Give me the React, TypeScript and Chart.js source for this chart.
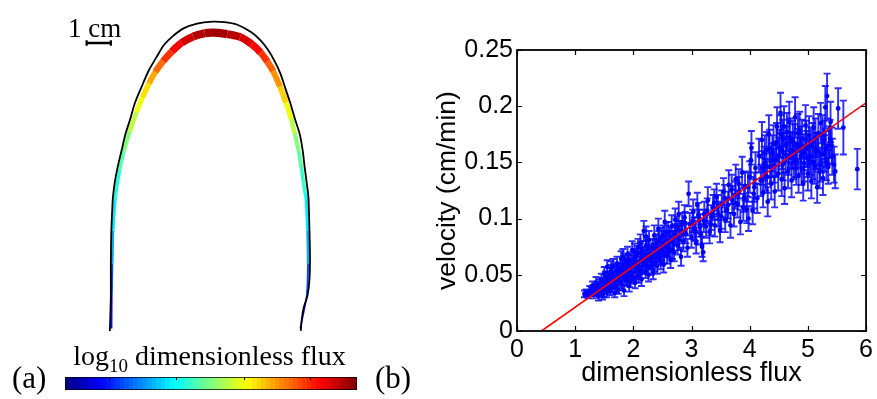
import React, { useEffect, useRef } from 'react';
import { Chart, registerables } from 'chart.js';
Chart.register(...registerables);

// ---------- Panel (a): front outline and flux band (cm) ----------
const outlineX = [0, 0.02, 0.04, 0.04, 0.06, 0.1, 0.12, 0.2, 0.32, 0.48, 0.64, 0.84, 1.04, 1.32, 1.6, 1.92, 2.24, 2.6, 3.04, 3.6, 4.24, 4.72, 5.24, 5.84, 6.2, 6.52, 6.8, 7.04, 7.24, 7.44, 7.64, 7.84, 7.96, 8.04, 8.16, 8.2, 8.24, 8.26, 8.24, 8.16, 8.0, 7.92, 7.88];
const outlineY = [0, 0.68, 1.48, 2.8, 4.16, 5.08, 5.48, 6.16, 6.8, 7.48, 8.16, 8.8, 9.48, 10.16, 10.8, 11.36, 11.88, 12.24, 12.56, 12.76, 12.84, 12.82, 12.72, 12.4, 12.08, 11.68, 11.2, 10.68, 10.08, 9.48, 8.8, 8.16, 7.48, 6.8, 5.88, 5.48, 4.16, 3.08, 2.16, 1.48, 0.96, 0.48, 0];

const bandX = [0.07, 0.08, 0.1, 0.13, 0.22, 0.4, 0.58, 0.82, 1.1, 1.34, 1.62, 1.88, 2.2, 2.56, 2.96, 3.44, 3.92, 4.32, 4.84, 5.38, 5.86, 6.22, 6.5, 6.74, 7.02, 7.27, 7.48, 7.64, 7.79, 7.9, 8.04, 8.1, 8.16, 8.18, 8.13, 7.86];
const bandY = [0.1, 1.48, 2.8, 4.16, 5.48, 6.68, 7.48, 8.28, 9.08, 9.68, 10.28, 10.76, 11.2, 11.6, 11.96, 12.22, 12.36, 12.38, 12.32, 12.2, 11.9, 11.56, 11.18, 10.78, 10.14, 9.48, 8.8, 8.16, 7.48, 6.8, 5.82, 5.48, 4.16, 2.8, 1.48, 0.1];
// position of log10 flux on the colour scale (0..1)
const bandFlux = [0.12, 0.16, 0.25, 0.33, 0.38, 0.44, 0.48, 0.53, 0.59, 0.63, 0.68, 0.74, 0.8, 0.85, 0.9, 0.94, 0.96, 0.97, 0.96, 0.93, 0.89, 0.85, 0.8, 0.76, 0.7, 0.64, 0.58, 0.53, 0.48, 0.45, 0.41, 0.38, 0.33, 0.25, 0.16, 0.12];

const scaleBarX = [-0.96, 0.04];
const scaleBarY = [11.95, 11.95];
const scaleBarLabel = '1 cm';
const colorbarTicks = [0.151, 0.381, 0.612, 0.838];

// ---------- Panel (b): velocity vs dimensionless flux ----------
const fluxValues = [
  1.16, 1.19, 1.22, 1.25, 1.28, 1.30, 1.32, 1.34, 1.36, 1.38, 1.40, 1.42,
  1.44, 1.45, 1.47, 1.48, 1.50, 1.51, 1.53, 1.54, 1.55, 1.57, 1.58, 1.60, 1.61, 1.62, 1.64, 1.65, 1.66, 1.68, 1.69, 1.70,
  1.72, 1.73, 1.74, 1.76, 1.77, 1.79, 1.80, 1.82, 1.83, 1.84, 1.86, 1.87, 1.89, 1.90, 1.92, 1.93, 1.95, 1.96, 1.98, 1.99,
  2.01, 2.03, 2.04, 2.06, 2.08, 2.09, 2.11, 2.13, 2.14, 2.16, 2.18, 2.19, 2.21, 2.22, 2.24, 2.26, 2.27, 2.29,
  2.31, 2.33, 2.34, 2.36, 2.38, 2.40, 2.41, 2.43, 2.45, 2.47, 2.48, 2.50, 2.52, 2.54, 2.56, 2.58,
  2.60, 2.62, 2.64, 2.66, 2.68, 2.70, 2.72, 2.74, 2.76, 2.78, 2.80, 2.82, 2.84, 2.86, 2.88, 2.90, 2.93, 2.95,
  2.97, 3.00, 3.03, 3.05, 3.08, 3.10, 3.13, 3.16, 3.18, 3.20, 3.22, 3.25, 3.28, 3.31, 3.34, 3.37,
  3.40, 3.43, 3.46, 3.49, 3.52, 3.55, 3.58, 3.61, 3.64, 3.67, 3.70, 3.73, 3.76, 3.79,
  3.82, 3.84, 3.87, 3.90, 3.92, 3.95, 3.98, 4.00, 4.02, 4.03, 4.05, 4.08, 4.10, 4.13, 4.16, 4.19,
  4.21, 4.23, 4.25, 4.27, 4.29, 4.31, 4.33, 4.35, 4.37, 4.39, 4.41, 4.43, 4.45, 4.47, 4.49, 4.51, 4.53, 4.55, 4.57, 4.58, 4.60, 4.62,
  4.64, 4.66, 4.68, 4.70, 4.72, 4.74, 4.76, 4.78, 4.80, 4.82, 4.84, 4.86, 4.88, 4.90, 4.92, 4.94, 4.96, 4.98, 5.00, 5.02,
  5.04, 5.06, 5.08, 5.10, 5.12, 5.14, 5.16, 5.18, 5.20, 5.22, 5.24, 5.26, 5.28, 5.30, 5.32, 5.33, 5.36, 5.39,
  5.42, 5.45, 5.47, 5.52, 5.61, 5.85,
  1.31, 1.35, 1.39, 1.43, 1.46, 1.49, 1.52, 1.56, 1.59, 1.63, 1.67, 1.71, 1.75, 1.78, 1.81, 1.85, 1.88, 1.91, 1.94, 1.97,
  2.00, 2.02, 2.05, 2.07, 2.10, 2.12, 2.15, 2.17, 2.20, 2.23, 2.25, 2.28, 1.52, 1.62, 1.72, 1.82, 1.92, 2.02, 2.12, 2.22,
  2.30, 2.32, 2.35, 2.37, 2.39, 2.42, 2.44, 2.46, 2.49, 2.51, 2.53, 2.55, 2.57, 2.59, 2.61, 2.63, 2.67, 2.71, 2.75, 2.79, 2.83, 2.89,
  3.02, 3.07, 3.12, 3.15, 3.21, 3.27, 3.33, 3.39, 3.45, 3.51, 3.57, 3.63, 3.69, 3.75, 3.81, 3.89, 3.97, 4.07,
  4.22, 4.26, 4.30, 4.34, 4.38, 4.42, 4.46, 4.50, 4.54, 4.56, 4.59, 4.63, 4.67, 4.69, 4.73, 4.77, 4.79,
  4.83, 4.87, 4.89, 4.93, 4.97, 5.01, 5.05, 5.09, 5.13, 5.17, 5.21, 5.25, 5.29, 5.31, 5.35, 5.38, 5.41,
];
const velocityValues = [
  0.033, 0.034, 0.032, 0.036, 0.035, 0.040, 0.033, 0.038, 0.043, 0.036, 0.031, 0.041,
  0.035, 0.046, 0.032, 0.040, 0.051, 0.037, 0.044, 0.034, 0.057, 0.041, 0.048, 0.036, 0.053, 0.044, 0.039, 0.058, 0.047, 0.034, 0.052, 0.042,
  0.060, 0.046, 0.037, 0.055, 0.049, 0.064, 0.041, 0.058, 0.050, 0.036, 0.062, 0.053, 0.045, 0.068, 0.057, 0.040, 0.063, 0.051, 0.072, 0.047,
  0.060, 0.043, 0.066, 0.055, 0.074, 0.049, 0.062, 0.070, 0.046, 0.058, 0.089, 0.067, 0.053, 0.076, 0.062, 0.050, 0.081, 0.069,
  0.057, 0.074, 0.052, 0.085, 0.066, 0.078, 0.058, 0.091, 0.071, 0.062, 0.083, 0.075, 0.059, 0.097, 0.080, 0.068,
  0.088, 0.073, 0.063, 0.093, 0.080, 0.070, 0.099, 0.085, 0.076, 0.104, 0.089, 0.066, 0.095, 0.080, 0.101, 0.087, 0.074, 0.122,
  0.095, 0.083, 0.106, 0.091, 0.078, 0.112, 0.098, 0.086, 0.075, 0.070, 0.104, 0.093, 0.116, 0.088, 0.101, 0.110,
  0.094, 0.119, 0.104, 0.089, 0.113, 0.124, 0.099, 0.108, 0.130, 0.094, 0.117, 0.104, 0.135, 0.113,
  0.124, 0.097, 0.141, 0.118, 0.129, 0.108, 0.100, 0.137, 0.152, 0.163, 0.107, 0.128, 0.145, 0.118, 0.156, 0.134,
  0.170, 0.123, 0.149, 0.139, 0.161, 0.115, 0.175, 0.146, 0.131, 0.158, 0.167, 0.124, 0.152, 0.182, 0.140, 0.163, 0.194, 0.135, 0.171, 0.149, 0.127, 0.157,
  0.177, 0.142, 0.186, 0.161, 0.134, 0.170, 0.151, 0.190, 0.145, 0.164, 0.138, 0.178, 0.156, 0.171, 0.131, 0.149, 0.183, 0.162, 0.140, 0.174,
  0.155, 0.133, 0.168, 0.181, 0.147, 0.160, 0.128, 0.176, 0.142, 0.185, 0.157, 0.136, 0.170, 0.199, 0.150, 0.209, 0.165, 0.186,
  0.155, 0.148, 0.142, 0.198, 0.181, 0.144,
  0.037, 0.035, 0.040, 0.038, 0.042, 0.034, 0.039, 0.047, 0.043, 0.050, 0.045, 0.039, 0.051, 0.043, 0.054, 0.047, 0.059, 0.049, 0.044, 0.058,
  0.052, 0.064, 0.048, 0.069, 0.056, 0.052, 0.072, 0.061, 0.065, 0.057, 0.073, 0.063, 0.048, 0.056, 0.054, 0.066, 0.061, 0.070, 0.078, 0.084,
  0.066, 0.062, 0.070, 0.060, 0.073, 0.068, 0.080, 0.066, 0.071, 0.085, 0.067, 0.077, 0.088, 0.074, 0.079, 0.084, 0.072, 0.086, 0.092, 0.081, 0.088, 0.096,
  0.098, 0.089, 0.103, 0.094, 0.098, 0.107, 0.095, 0.114, 0.110, 0.102, 0.118, 0.112, 0.126, 0.121, 0.131, 0.110, 0.128, 0.122,
  0.145, 0.158, 0.137, 0.163, 0.152, 0.147, 0.168, 0.156, 0.175, 0.160, 0.182, 0.166, 0.155, 0.172, 0.160, 0.167, 0.152,
  0.176, 0.166, 0.145, 0.159, 0.170, 0.153, 0.165, 0.150, 0.172, 0.160, 0.148, 0.175, 0.158, 0.162, 0.146, 0.171, 0.165,
];
const velocityErrors = [
  0.003, 0.003, 0.003, 0.004, 0.004, 0.004, 0.004, 0.004, 0.005, 0.004, 0.004, 0.005,
  0.004, 0.005, 0.004, 0.004, 0.006, 0.004, 0.005, 0.004, 0.006, 0.005, 0.005, 0.004, 0.006, 0.005, 0.005, 0.006, 0.005, 0.004, 0.006, 0.005,
  0.006, 0.005, 0.004, 0.006, 0.005, 0.007, 0.005, 0.006, 0.006, 0.005, 0.007, 0.006, 0.005, 0.007, 0.006, 0.005, 0.007, 0.006, 0.008, 0.005,
  0.007, 0.005, 0.007, 0.006, 0.008, 0.006, 0.007, 0.008, 0.006, 0.007, 0.009, 0.007, 0.006, 0.008, 0.007, 0.006, 0.008, 0.008,
  0.007, 0.008, 0.006, 0.009, 0.007, 0.008, 0.007, 0.009, 0.008, 0.007, 0.009, 0.008, 0.007, 0.010, 0.009, 0.008,
  0.009, 0.008, 0.007, 0.010, 0.009, 0.008, 0.010, 0.009, 0.008, 0.011, 0.009, 0.008, 0.010, 0.009, 0.011, 0.009, 0.008, 0.011,
  0.010, 0.009, 0.011, 0.010, 0.009, 0.011, 0.010, 0.009, 0.009, 0.008, 0.011, 0.010, 0.012, 0.010, 0.011, 0.011,
  0.010, 0.012, 0.011, 0.010, 0.012, 0.012, 0.011, 0.011, 0.013, 0.011, 0.012, 0.011, 0.013, 0.012,
  0.013, 0.011, 0.014, 0.012, 0.013, 0.012, 0.011, 0.014, 0.015, 0.015, 0.012, 0.013, 0.014, 0.013, 0.015, 0.014,
  0.016, 0.013, 0.015, 0.014, 0.016, 0.013, 0.017, 0.015, 0.014, 0.016, 0.016, 0.014, 0.015, 0.017, 0.015, 0.016, 0.018, 0.015, 0.017, 0.015, 0.014, 0.016,
  0.017, 0.015, 0.018, 0.016, 0.015, 0.017, 0.016, 0.018, 0.015, 0.016, 0.015, 0.017, 0.016, 0.017, 0.015, 0.016, 0.018, 0.016, 0.015, 0.017,
  0.016, 0.015, 0.017, 0.018, 0.016, 0.016, 0.014, 0.017, 0.015, 0.018, 0.016, 0.015, 0.017, 0.019, 0.016, 0.020, 0.017, 0.018,
  0.016, 0.016, 0.015, 0.018, 0.024, 0.018,
  0.004, 0.004, 0.004, 0.004, 0.005, 0.004, 0.004, 0.005, 0.005, 0.006, 0.005, 0.005, 0.006, 0.005, 0.006, 0.005, 0.006, 0.005, 0.005, 0.006,
  0.006, 0.007, 0.005, 0.007, 0.006, 0.006, 0.008, 0.007, 0.007, 0.006, 0.008, 0.007, 0.005, 0.006, 0.006, 0.007, 0.007, 0.008, 0.008, 0.009,
  0.007, 0.007, 0.008, 0.007, 0.008, 0.007, 0.009, 0.007, 0.008, 0.009, 0.007, 0.008, 0.009, 0.008, 0.009, 0.009, 0.008, 0.009, 0.010, 0.009, 0.010, 0.010,
  0.010, 0.009, 0.011, 0.010, 0.010, 0.011, 0.010, 0.012, 0.011, 0.011, 0.012, 0.012, 0.013, 0.012, 0.013, 0.012, 0.013, 0.013,
  0.015, 0.016, 0.014, 0.016, 0.015, 0.015, 0.017, 0.016, 0.017, 0.016, 0.018, 0.016, 0.016, 0.017, 0.016, 0.017, 0.015,
  0.017, 0.016, 0.015, 0.016, 0.017, 0.016, 0.016, 0.015, 0.017, 0.016, 0.015, 0.017, 0.016, 0.016, 0.015, 0.017, 0.016,
];
const fitX = [0.42, 6];
const fitY = [0, 0.203];
const xTickValues = [0, 1, 2, 3, 4, 5, 6];
const yTickValues = [0, 0.05, 0.1, 0.15, 0.2, 0.25];
const xTitle = 'dimensionless flux';
const yTitle = 'velocity (cm/min)';

const SANS = '"Liberation Sans", Arial, Helvetica, sans-serif';
const SERIF = '"Liberation Serif", "Times New Roman", serif';

function jet(t: number): string {
  const c = (v: number) => Math.max(0, Math.min(1, v));
  const r = c(1.5 - Math.abs(4 * t - 3));
  const g = c(1.5 - Math.abs(4 * t - 2));
  const b = c(1.5 - Math.abs(4 * t - 1));
  return `rgb(${Math.round(r * 255)},${Math.round(g * 255)},${Math.round(b * 255)})`;
}

function formatTick(v: number): string {
  return String(parseFloat(Number(v).toFixed(3)));
}

export default function App() {
  const shapeRef = useRef<HTMLCanvasElement>(null);
  const barRef = useRef<HTMLCanvasElement>(null);
  const scatRef = useRef<HTMLCanvasElement>(null);

  useEffect(() => {
    // ---------- shape chart ----------
    const scaleLabelPlugin = {
      id: 'scaleLabel',
      afterDatasetsDraw(chart: any) {
        const { ctx, scales } = chart;
        const cx = (scales.x.getPixelForValue(scaleBarX[0]) + scales.x.getPixelForValue(scaleBarX[1])) / 2;
        const cy = scales.y.getPixelForValue(scaleBarY[0]);
        ctx.save();
        ctx.fillStyle = '#000';
        ctx.font = `27px ${SERIF}`;
        ctx.textAlign = 'center';
        ctx.textBaseline = 'alphabetic';
        ctx.fillText(scaleBarLabel, cx - 4, cy - 6.5);
        ctx.restore();
      },
    };
    const shape = new Chart(shapeRef.current!, {
      type: 'scatter',
      data: {
        datasets: [
          {
            label: 'outline',
            data: outlineX.map((x, i) => ({ x, y: outlineY[i] })),
            showLine: true,
            borderColor: '#000',
            borderWidth: 1.8,
            pointRadius: 0,
            tension: 0.3,
            order: 0,
          } as any,
          {
            label: 'flux',
            data: bandX.map((x, i) => ({ x, y: bandY[i] })),
            showLine: true,
            borderColor: '#f00',
            borderWidth: 3,
            borderCapStyle: 'butt',
            pointRadius: 0,
            tension: 0.2,
            order: 1,
            segment: {
              borderColor: (ctx: any) => jet((bandFlux[ctx.p0DataIndex] + bandFlux[ctx.p1DataIndex]) / 2),
              borderWidth: (ctx: any) => {
                const t = (bandFlux[ctx.p0DataIndex] + bandFlux[ctx.p1DataIndex]) / 2;
                return 1 + 7.5 * Math.pow(t, 1.25);
              },
            },
          } as any,
          {
            label: 'scale bar',
            data: scaleBarX.map((x, i) => ({ x, y: scaleBarY[i] })),
            showLine: true,
            borderColor: '#000',
            borderWidth: 2.6,
            pointStyle: 'line',
            rotation: 90,
            pointRadius: 2.8,
            pointBorderWidth: 2.2,
            pointBorderColor: '#000',
            order: 0,
          } as any,
        ],
      },
      options: {
        animation: false,
        responsive: false,
        maintainAspectRatio: false,
        layout: { padding: 0 },
        plugins: { legend: { display: false }, tooltip: { enabled: false } },
        scales: {
          x: { type: 'linear', display: false, min: -4.28, max: 11.72 },
          y: { type: 'linear', display: false, min: -0.12, max: 13.48 },
        },
      },
      plugins: [scaleLabelPlugin],
    });

    // ---------- colour bar ----------
    const colorbarPlugin = {
      id: 'colorbarDeco',
      afterDraw(chart: any) {
        const { ctx, chartArea, scales } = chart;
        ctx.save();
        ctx.strokeStyle = '#000';
        ctx.lineWidth = 1;
        colorbarTicks.forEach((t) => {
          const px = Math.round(scales.x.getPixelForValue(t)) + 0.5;
          ctx.beginPath();
          ctx.moveTo(px, chartArea.top);
          ctx.lineTo(px, chartArea.top + 3);
          ctx.stroke();
        });
        ctx.fillStyle = '#000';
        ctx.textBaseline = 'alphabetic';
        ctx.textAlign = 'left';
        const mainFont = `28px ${SERIF}`;
        const subFont = `19px ${SERIF}`;
        ctx.font = mainFont;
        const w1 = ctx.measureText('log').width;
        const w3 = ctx.measureText(' dimensionless flux').width;
        ctx.font = subFont;
        const w2 = ctx.measureText('10').width;
        const total = w1 + w2 + w3;
        const cx = (chartArea.left + chartArea.right) / 2 - 1.5;
        const base = chartArea.top - 12;
        let x0 = cx - total / 2;
        ctx.font = mainFont;
        ctx.fillText('log', x0, base);
        x0 += w1;
        ctx.font = subFont;
        ctx.fillText('10', x0, base + 7);
        x0 += w2;
        ctx.font = mainFont;
        ctx.fillText(' dimensionless flux', x0, base);
        ctx.font = `31px ${SERIF}`;
        ctx.fillText('(a)', 12, chartArea.bottom - 2);
        ctx.fillText('(b)', 375, chartArea.bottom - 2);
        ctx.restore();
      },
    };
    const bar = new Chart(barRef.current!, {
      type: 'bar',
      data: {
        labels: ['flux'],
        datasets: [
          {
            data: [[0, 1]] as any,
            backgroundColor: (c: any) => {
              const area = c.chart.chartArea;
              if (!area) return '#00f';
              const g = c.chart.ctx.createLinearGradient(area.left, 0, area.right, 0);
              const n = 64;
              for (let i = 0; i < n; i++) {
                const col = jet((i + 0.5) / n);
                g.addColorStop(i / n, col);
                g.addColorStop(Math.min(1, (i + 1) / n - 1e-4), col);
              }
              return g;
            },
            borderColor: '#000',
            borderWidth: 1,
            borderSkipped: false,
            barPercentage: 1,
            categoryPercentage: 1,
          } as any,
        ],
      },
      options: {
        indexAxis: 'y',
        animation: false,
        responsive: false,
        maintainAspectRatio: false,
        layout: { padding: { left: 65, right: 63, top: 37, bottom: 9 } },
        plugins: { legend: { display: false }, tooltip: { enabled: false } },
        scales: {
          x: { type: 'linear', display: false, min: 0, max: 1 },
          y: { display: false },
        },
      },
      plugins: [colorbarPlugin],
    });

    // ---------- scatter with error bars ----------
    const errorBarPlugin = {
      id: 'errorBars',
      beforeDatasetsDraw(chart: any) {
        const { ctx, scales, chartArea } = chart;
        ctx.save();
        ctx.beginPath();
        ctx.rect(chartArea.left, chartArea.top, chartArea.right - chartArea.left, chartArea.bottom - chartArea.top);
        ctx.clip();
        ctx.strokeStyle = 'rgba(0,0,255,0.82)';
        ctx.lineWidth = 1.9;
        fluxValues.forEach((fx, i) => {
          const px = scales.x.getPixelForValue(fx);
          const top = scales.y.getPixelForValue(velocityValues[i] + velocityErrors[i]);
          const bot = scales.y.getPixelForValue(velocityValues[i] - velocityErrors[i]);
          ctx.beginPath();
          ctx.moveTo(px, top);
          ctx.lineTo(px, bot);
          ctx.moveTo(px - 3.5, top);
          ctx.lineTo(px + 3.5, top);
          ctx.moveTo(px - 3.5, bot);
          ctx.lineTo(px + 3.5, bot);
          ctx.stroke();
        });
        ctx.restore();
      },
    };
    const framePlugin = {
      id: 'frame',
      afterDraw(chart: any) {
        const { ctx, scales, chartArea: a } = chart;
        ctx.save();
        ctx.strokeStyle = '#000';
        ctx.lineWidth = 1.2;
        const tl = 5;
        ctx.beginPath();
        xTickValues.forEach((v) => {
          const px = Math.round(scales.x.getPixelForValue(v)) + 0.5;
          ctx.moveTo(px, a.bottom);
          ctx.lineTo(px, a.bottom - tl);
          ctx.moveTo(px, a.top);
          ctx.lineTo(px, a.top + tl);
        });
        yTickValues.forEach((v) => {
          const py = Math.round(scales.y.getPixelForValue(v)) + 0.5;
          ctx.moveTo(a.left, py);
          ctx.lineTo(a.left + tl, py);
          ctx.moveTo(a.right, py);
          ctx.lineTo(a.right - tl, py);
        });
        ctx.stroke();
        ctx.lineWidth = 1.8;
        ctx.strokeRect(a.left, a.top, a.right - a.left, a.bottom - a.top);
        ctx.restore();
      },
    };
    const scat = new Chart(scatRef.current!, {
      type: 'scatter',
      data: {
        datasets: [
          {
            label: 'fit',
            data: fitX.map((x, i) => ({ x, y: fitY[i] })),
            showLine: true,
            borderColor: '#ff0000',
            borderWidth: 1.6,
            pointRadius: 0,
            order: 0,
          } as any,
          {
            label: 'data',
            data: fluxValues.map((x, i) => ({ x, y: velocityValues[i] })),
            pointRadius: 2.4,
            pointBackgroundColor: '#0000ff',
            pointBorderWidth: 0,
            order: 1,
          } as any,
        ],
      },
      options: {
        animation: false,
        responsive: false,
        maintainAspectRatio: false,
        layout: { padding: { left: 0, right: 8, top: 50, bottom: 0 } },
        plugins: { legend: { display: false }, tooltip: { enabled: false } },
        scales: {
          x: {
            type: 'linear',
            min: 0,
            max: 6,
            grid: { display: false, drawTicks: false },
            border: { display: false },
            ticks: { stepSize: 1, padding: 4, color: '#000', font: { family: SANS, size: 25 }, callback: (v: any) => formatTick(v) },
            title: { display: true, text: xTitle, color: '#000', font: { family: SANS, size: 27 }, padding: { top: 0, bottom: 9.2 } },
            afterFit: (s: any) => { s.height = 68; },
          } as any,
          y: {
            type: 'linear',
            min: 0,
            max: 0.25,
            grid: { display: false, drawTicks: false },
            border: { display: false },
            ticks: { stepSize: 0.05, padding: 4, color: '#000', font: { family: SANS, size: 25 }, callback: (v: any) => formatTick(v) },
            title: { display: true, text: yTitle, color: '#000', font: { family: SANS, size: 26.5 }, padding: { top: 31.6, bottom: 0 } },
            afterFit: (s: any) => { s.width = 117; },
          } as any,
        },
      },
      plugins: [errorBarPlugin, framePlugin],
    });

    return () => {
      shape.destroy();
      bar.destroy();
      scat.destroy();
    };
  }, []);

  return (
    <div style={{ position: 'fixed', left: 0, top: 0, width: 877, height: 399, background: '#fff' }}>
      <canvas ref={shapeRef} width={400} height={340} style={{ position: 'absolute', left: 0, top: 0 }} />
      <canvas ref={barRef} width={420} height={59} style={{ position: 'absolute', left: 0, top: 340 }} />
      <canvas ref={scatRef} width={477} height={399} style={{ position: 'absolute', left: 400, top: 0 }} />
    </div>
  );
}
